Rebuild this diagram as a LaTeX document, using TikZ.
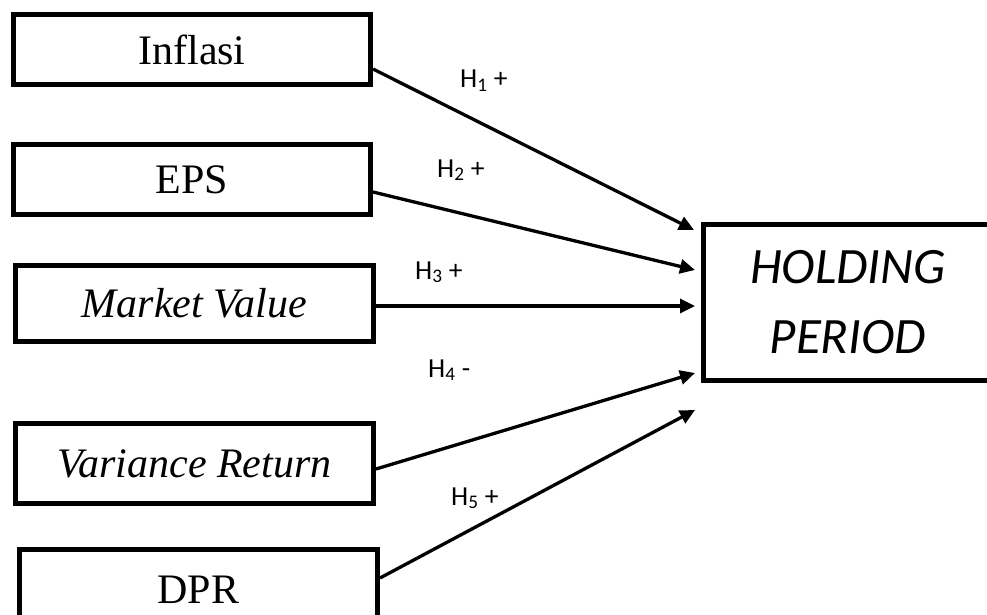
\documentclass[tikz,border=0pt]{standalone}
\usepackage{fontspec}
\setmainfont{Liberation Serif}
\newfontfamily\calfont{Carlito}
\usetikzlibrary{arrows.meta}
\begin{document}
\begin{tikzpicture}[x=1pt,y=-1pt,
  varbox/.style={draw,line width=5pt,minimum width=357pt,minimum height=70pt,inner sep=0pt,
    font=\fontsize{42}{50}\selectfont},
  hpbox/.style={draw,line width=5pt,minimum width=289pt,minimum height=156pt,inner sep=0pt,
    align=center,font=\calfont\itshape\fontsize{51}{70}\selectfont},
  arr/.style={line width=3.3pt,-{Triangle[length=15pt,width=14pt]}},
  hlab/.style={anchor=base west,inner sep=0pt,font=\calfont\fontsize{27.5}{33}\selectfont}]
\useasboundingbox (0,0) rectangle (987,615);
\node[varbox] (inf) at (192,49.5) {Inflasi};
\node[varbox] (eps) at (192,179.5) {EPS};
\node[varbox,minimum width=358pt,minimum height=76pt] (mv) at (194.5,303.5) {\itshape Market Value};
\node[varbox,minimum width=358pt,minimum height=80pt] (vr) at (194.5,463.5) {\itshape Variance Return};
\node[varbox,minimum width=358pt,minimum height=80pt] (dpr) at (198.5,589.5) {DPR};
\node[hpbox] (hp) at (848,302.5) {HOLDING\\PERIOD};
\coordinate (t1) at ([xshift=-7pt,yshift=72.5pt]hp.west);
\coordinate (t2) at ([xshift=-6pt,yshift=32.5pt]hp.west);
\coordinate (t3) at ([xshift=-6pt,yshift=-3.5pt]hp.west);
\coordinate (t4) at ([xshift=-6pt,yshift=-70.5pt]hp.west);
\coordinate (t5) at ([xshift=-6pt,yshift=-107.5pt]hp.west);
\draw[arr] ([yshift=-19.5pt]inf.east) -- (t1);
\draw[arr] ([yshift=-12.5pt]eps.east) -- (t2);
\draw[arr] ([yshift=-2.5pt]mv.east) -- (t3);
\draw[arr] ([yshift=-5.5pt]vr.east) -- (t4);
\draw[arr] ([yshift=11.5pt]dpr.east) -- (t5);
\node[hlab] (h1) at (460,88) {H\textsubscript{1} +};
\node[hlab] (h2) at (437,177) {H\textsubscript{2} +};
\node[hlab] (h3) at (415,279) {H\textsubscript{3} +};
\node[hlab] (h4) at (428,377) {H\textsubscript{4} -};
\node[hlab] (h5) at (451,505) {H\textsubscript{5} +};
\end{tikzpicture}
\end{document}
